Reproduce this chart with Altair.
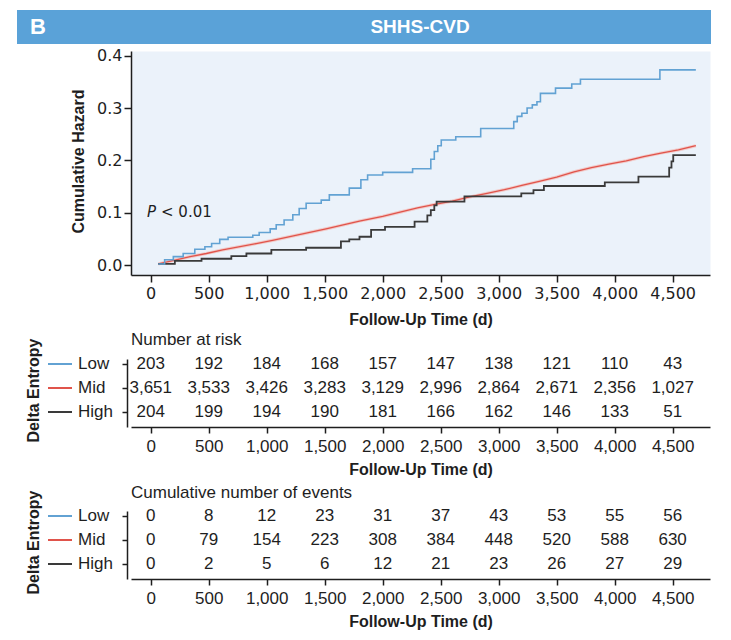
import altair as alt
import pandas as pd

# ---------------- data ----------------
TICK_TIMES = [0, 500, 1000, 1500, 2000, 2500, 3000, 3500, 4000, 4500]
HAZ_TICKS = [0.0, 0.1, 0.2, 0.3, 0.4]
GROUPS = ["Low", "Mid", "High"]
COLORS = ["#62A2D3", "#E0544B", "#3A3A3A"]

low_t = [65, 120, 195, 280, 380, 467, 525, 595, 667, 880,
         935, 1030, 1082, 1150, 1225, 1280, 1340, 1470, 1540, 1712,
         1812, 1870, 2000, 2258, 2415, 2445, 2475, 2505, 2630, 2845,
         3130, 3160, 3200, 3245, 3290, 3330, 3360, 3490, 3630, 3705,
         4390, 4700]
low_h = [0.002, 0.010, 0.016, 0.022, 0.030, 0.035, 0.041, 0.049, 0.053, 0.057,
         0.062, 0.069, 0.077, 0.086, 0.096, 0.108, 0.118, 0.124, 0.134, 0.147,
         0.163, 0.172, 0.177, 0.184, 0.202, 0.217, 0.228, 0.239, 0.245, 0.261,
         0.274, 0.284, 0.290, 0.300, 0.306, 0.312, 0.328, 0.338, 0.346, 0.355,
         0.373, 0.373]

mid_t = [65, 200, 340, 480, 620, 770, 910, 1050, 1280, 1512,
         1650, 1800, 2000, 2150, 2300, 2450, 2600, 2750, 2900, 3050,
         3200, 3350, 3500, 3650, 3800, 3950, 4100, 4250, 4400, 4550, 4700]
mid_h = [0.002, 0.009, 0.016, 0.022, 0.029, 0.035, 0.041, 0.047, 0.058, 0.069,
         0.076, 0.084, 0.093, 0.101, 0.109, 0.116, 0.122, 0.130, 0.137, 0.144,
         0.152, 0.160, 0.168, 0.178, 0.186, 0.193, 0.199, 0.207, 0.214, 0.220, 0.228]

high_t = [65, 208, 438, 695, 825, 1040, 1340, 1640, 1712, 1800,
          1900, 2020, 2275, 2385, 2415, 2445, 2465, 2705, 3195, 3300,
          3390, 3915, 4205, 4470, 4490, 4505, 4700]
high_h = [0.002, 0.008, 0.012, 0.017, 0.022, 0.029, 0.033, 0.045, 0.049, 0.054,
          0.067, 0.073, 0.083, 0.095, 0.105, 0.114, 0.121, 0.131, 0.137, 0.143,
          0.151, 0.158, 0.169, 0.186, 0.198, 0.210, 0.210]

risk_low = [203, 192, 184, 168, 157, 147, 138, 121, 110, 43]
risk_mid = [3651, 3533, 3426, 3283, 3129, 2996, 2864, 2671, 2356, 1027]
risk_high = [204, 199, 194, 190, 181, 166, 162, 146, 133, 51]

events_low = [0, 8, 12, 23, 31, 37, 43, 53, 55, 56]
events_mid = [0, 79, 154, 223, 308, 384, 448, 520, 588, 630]
events_high = [0, 2, 5, 6, 12, 21, 23, 26, 27, 29]

# ---------------- styling ----------------
W = 579
INK = "#1E1E1E"
SANS = "Liberation Sans"
TICKFONT = "DejaVu Sans"
xscale = alt.Scale(domain=[-170, 4822], nice=False, zero=False)


def curve_df(t, h, g):
    return pd.DataFrame({"t": t, "h": h, "group": g})


low_df = curve_df(low_t, low_h, "Low")
mid_df = curve_df(mid_t, mid_h, "Mid")
high_df = curve_df(high_t, high_h, "High")

x_main = alt.X("t:Q", scale=xscale,
               axis=alt.Axis(values=TICK_TIMES, format=",.0f", title="Follow-Up Time (d)",
                             labelFont=TICKFONT, labelFontSize=16, labelPadding=3,
                             titlePadding=10, labelOverlap=False, tickSize=7, grid=False))
y_main = alt.Y("h:Q", scale=alt.Scale(domain=[-0.0191, 0.409], nice=False, zero=False),
               axis=alt.Axis(values=HAZ_TICKS, format=".1f", title="Cumulative Hazard",
                             labelFont=TICKFONT, labelFontSize=16, labelPadding=2,
                             tickSize=7, titleX=-53, titleY=110, titleAngle=270,
                             titleAlign="center", titleBaseline="middle", grid=False))

one = pd.DataFrame({"k": [0]})
header = alt.Chart(one).mark_rect(color="#5AA2D8").encode(
    x=alt.value(-114), x2=alt.value(580), y=alt.value(-41), y2=alt.value(-7))
hdr_b = alt.Chart(one).mark_text(text="B", font=SANS, fontWeight="bold", fontSize=22,
                                 color="white", align="left", baseline="middle").encode(
    x=alt.value(-101), y=alt.value(-24))
hdr_t = alt.Chart(one).mark_text(text="SHHS-CVD", font=SANS, fontWeight="bold", fontSize=19,
                                 color="white", align="center", baseline="middle").encode(
    x=alt.value(289), y=alt.value(-24))

mid_halo = alt.Chart(mid_df).mark_line(color="#F3B9B3", strokeWidth=3.2, opacity=0.7).encode(
    x=x_main, y=y_main)
mid_line = alt.Chart(mid_df).mark_line(color=COLORS[1], strokeWidth=1.3).encode(x=x_main, y=y_main)
high_line = alt.Chart(high_df).mark_line(interpolate="step-after", color=COLORS[2],
                                          strokeWidth=1.8).encode(x=x_main, y=y_main)
low_line = alt.Chart(low_df).mark_line(interpolate="step-after", color=COLORS[0],
                                        strokeWidth=1.6).encode(x=x_main, y=y_main)

p_it = alt.Chart(one).mark_text(text="P", font=TICKFONT, fontStyle="italic", fontSize=15,
                                color=INK, align="left", baseline="middle").encode(
    x=alt.value(16), y=alt.value(161))
p_rest = alt.Chart(one).mark_text(text="< 0.01", font=TICKFONT, fontSize=15,
                                  color=INK, align="left", baseline="middle").encode(
    x=alt.value(30), y=alt.value(161))

main = alt.layer(mid_halo, mid_line, high_line, low_line, p_it, p_rest,
                 header, hdr_b, hdr_t).properties(
    width=W, height=224,
    view=alt.ViewBackground(fill="#EBF2FA", strokeOpacity=0))


def make_table(title, vals_low, vals_mid, vals_high, title_y, top_pad):
    rows = []
    for i, (g, vals) in enumerate(zip(GROUPS, [vals_low, vals_mid, vals_high])):
        for t, v in zip(TICK_TIMES, vals):
            rows.append({"t": t, "row": i, "group": g, "value": v})
    df = pd.DataFrame(rows)
    gdf = pd.DataFrame({"row": [0, 1, 2], "group": GROUPS})
    yenc = alt.Y("row:Q",
                 scale=alt.Scale(domain=[-0.208, 2.625], reverse=True, nice=False, zero=False),
                 axis=alt.Axis(values=[0, 1, 2], labels=False, tickSize=5, offset=4,
                               title="Delta Entropy", titleFontSize=16,
                               titleX=-94, titleY=31, titleAngle=270, titleAlign="center",
                               titleBaseline="middle", grid=False))
    xenc = alt.X("t:Q", scale=xscale,
                 axis=alt.Axis(values=TICK_TIMES, format=",.0f", title="Follow-Up Time (d)",
                               labelFont=SANS, labelFontSize=17, labelPadding=5, tickSize=6,
                               titlePadding=7, labelOverlap=False, grid=False))
    nums = alt.Chart(df).mark_text(font=SANS, fontSize=17, color=INK, baseline="middle").encode(
        x=xenc, y=yenc, text=alt.Text("value:Q", format=","))
    names = alt.Chart(gdf).mark_text(font=SANS, fontSize=17, color=INK, align="left",
                                     baseline="middle").encode(
        x=alt.value(-53), y=yenc, text="group:N")
    keys = alt.Chart(gdf).mark_rule(strokeWidth=2).encode(
        x=alt.value(-83), x2=alt.value(-59), y=yenc,
        color=alt.Color("group:N", scale=alt.Scale(domain=GROUPS, range=COLORS), legend=None))
    head = alt.Chart(one).mark_text(text=title, font=SANS, fontSize=17, color=INK,
                                    align="left", baseline="middle").encode(
        x=alt.value(0), y=alt.value(title_y))
    spacer = alt.Chart(one).mark_rule(strokeOpacity=0).encode(
        x=alt.value(0), x2=alt.value(1), y=alt.value(-top_pad))
    return alt.layer(nums, names, keys, head, spacer).properties(
        width=W, height=68, view=alt.ViewBackground(strokeOpacity=0))


t1 = make_table("Number at risk", risk_low, risk_mid, risk_high, -19, 27)
t2 = make_table("Cumulative number of events", events_low, events_mid, events_high, -18, 30)

chart = alt.vconcat(main, t1, t2, spacing=4).properties(
    padding={"left": 9, "top": 2, "right": 5, "bottom": 3}
).configure_view(strokeOpacity=0).configure_axis(
    domainColor=INK, tickColor=INK, labelColor=INK, titleColor=INK,
    domainWidth=1.5, tickWidth=1.5, titleFont=SANS, titleFontWeight="bold", titleFontSize=16
)

chart.save("out.html", embed_options={"renderer": "svg", "actions": False})
